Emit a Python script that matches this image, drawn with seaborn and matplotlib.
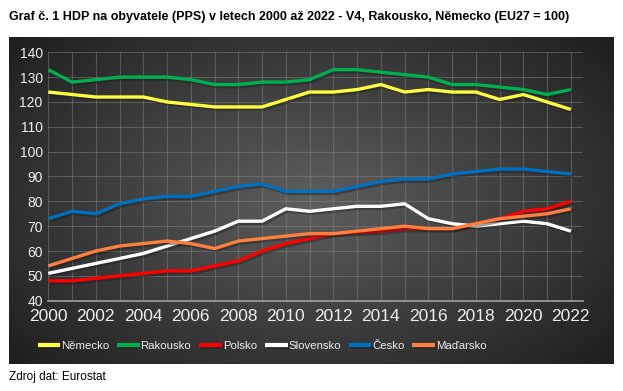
import numpy as np
import pandas as pd
import matplotlib
matplotlib.use("Agg")
import matplotlib.pyplot as plt
import matplotlib.patheffects as pe
import seaborn as sns

years = list(range(2000, 2023))
nemecko = [124, 123, 122, 122, 122, 120, 119, 118, 118, 118, 121, 124, 124, 125, 127, 124, 125, 124, 124, 121, 123, 120, 117]
rakousko = [133, 128, 129, 130, 130, 130, 129, 127, 127, 128, 128, 129, 133, 133, 132, 131, 130, 127, 127, 126, 125, 123, 125]
polsko = [48, 48, 49, 50, 51, 52, 52, 54, 56, 60, 63, 65, 67, 67.5, 68, 69, 69, 69, 71, 73, 76, 77, 80]
slovensko = [51, 53, 55, 57, 59, 62, 65, 68, 72, 72, 77, 76, 77, 78, 78, 79, 73, 71, 70, 71, 72, 71, 68]
cesko = [73, 76, 75, 79, 81, 82, 82, 84, 86, 87, 84, 84, 84, 86, 88, 89, 89, 91, 92, 93, 93, 92, 91]
madarsko = [54, 57, 60, 62, 63, 64, 63, 61, 64, 65, 66, 67, 67, 68, 69, 70, 69, 69, 71, 73, 74, 75, 77]

countries = ["Německo", "Rakousko", "Polsko", "Slovensko", "Česko", "Maďarsko"]
colors = ["#FFFF40", "#00B050", "#FF0000", "#FFFFFF", "#0070C0", "#FF7F3F"]
series = [nemecko, rakousko, polsko, slovensko, cesko, madarsko]

df = pd.DataFrame({
    "rok": years * len(countries),
    "hodnota": sum(series, []),
    "zeme": [c for c in countries for _ in years],
})

sns.set_theme(style="dark")
plt.rcParams["font.family"] = ["Liberation Sans", "DejaVu Sans"]

W, H = 623, 391
fig = plt.figure(figsize=(W / 100, H / 100), dpi=100)
fig.patch.set_facecolor("white")

# dark panel with radial gradient
bg = fig.add_axes([9 / W, 1 - 364 / H, (614 - 9) / W, (364 - 37) / H])
gx, gy = np.meshgrid(np.linspace(-1, 1, 300), np.linspace(-1, 1, 200))
r = np.sqrt((gx * 0.9) ** 2 + (gy * 0.8) ** 2)
shade = 0.37 - 0.21 * np.clip(r, 0, 1.3)
bg.imshow(np.dstack([shade] * 3), aspect="auto", extent=[0, 1, 0, 1])
bg.set_axis_off()

ax = fig.add_axes([48.3 / W, 1 - 300.7 / H, (582.7 - 48.3) / W, (300.7 - 52.3) / H])
ax.patch.set_alpha(0)

sns.lineplot(
    data=df, x="rok", y="hodnota", hue="zeme", hue_order=countries,
    palette=colors, linewidth=2.4, ax=ax, legend=True,
)
for line in ax.get_lines():
    line.set_path_effects([pe.SimpleLineShadow(offset=(1.5, -1.5), alpha=0.4), pe.Normal()])
    line.set_solid_capstyle("butt")

ax.set_xlim(2000, 2022.5)
ax.set_ylim(40, 140)
ax.set_xticks(range(2000, 2023, 2))
ax.set_yticks(range(40, 141, 10))
ax.set_xticks(years, minor=True)
ax.grid(True, which="both", color="#8a8a8a", alpha=0.45, linewidth=0.8)
for s in ["top", "right", "left"]:
    ax.spines[s].set_visible(False)
ax.spines["bottom"].set_color("#a0a0a0")
ax.spines["bottom"].set_linewidth(1.2)
ax.tick_params(axis="x", which="both", length=0, colors="#eeeeee", labelsize=12.5, pad=6)
ax.tick_params(axis="y", length=0, colors="#eeeeee", labelsize=10, pad=4)
ax.set_xlabel("")
ax.set_ylabel("")

handles, labels = ax.get_legend_handles_labels()
ax.legend_.remove()
leg = fig.legend(
    handles, labels, loc="center", bbox_to_anchor=(262 / W, 1 - 346 / H),
    ncol=6, frameon=False, handlelength=2.0, handletextpad=0.05,
    columnspacing=0.7, fontsize=8.2,
)
for t in leg.get_texts():
    t.set_color("#eeeeee")
for h in leg.legend_handles:
    h.set_linewidth(3)

fig.text(9 / W, 1 - 17 / H,
         "Graf č. 1 HDP na obyvatele (PPS) v letech 2000 až 2022 - V4, Rakousko, Německo (EU27 = 100)",
         fontsize=9, fontweight="bold", va="center", ha="left", color="black")
fig.text(9 / W, 1 - 377 / H, "Zdroj dat: Eurostat", fontsize=8.5, va="center", ha="left", color="black")

fig.savefig("out.png", dpi=100)
